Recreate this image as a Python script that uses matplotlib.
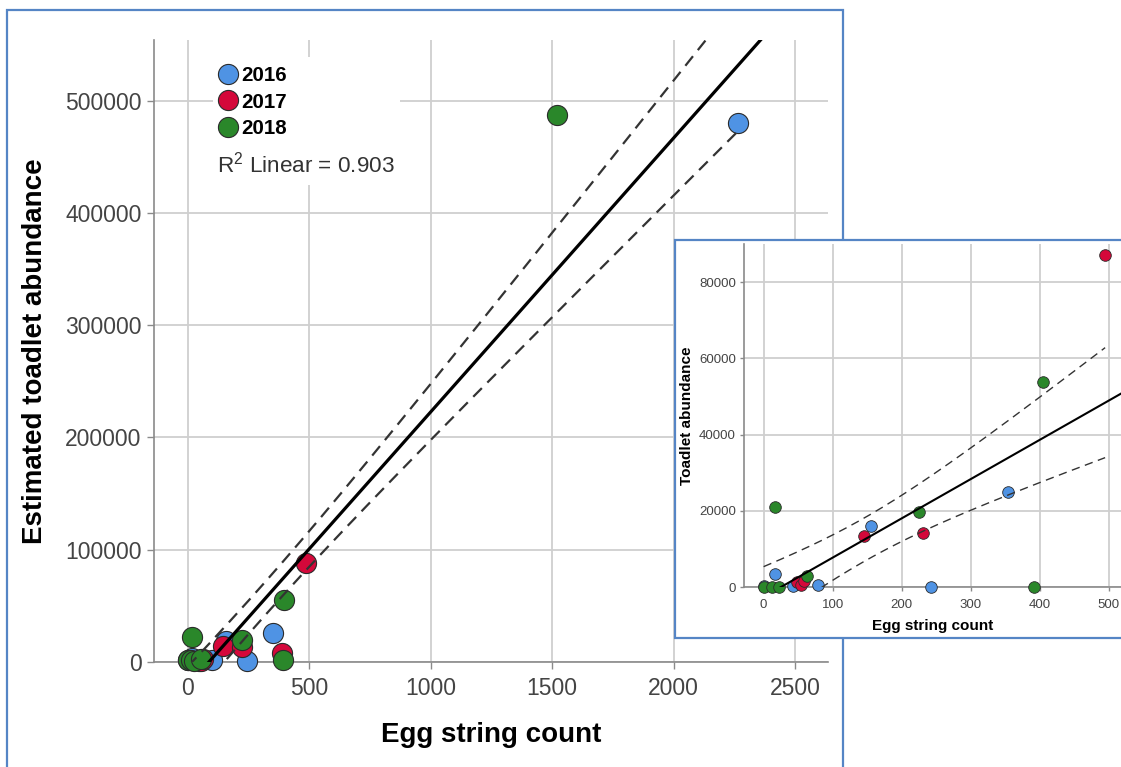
import numpy as np
import matplotlib
matplotlib.use('Agg')
import matplotlib.pyplot as plt
from matplotlib.lines import Line2D
from matplotlib.patches import Rectangle

plt.rcParams['font.family'] = ['Liberation Sans', 'DejaVu Sans']
plt.rcParams['mathtext.fontset'] = 'custom'
plt.rcParams['mathtext.rm'] = 'Liberation Sans'

# main chart: egg strings vs estimated toadlet abundance
years = ['2016', '2017', '2018']
main_egg_2016 = [0, 17, 45, 97, 155, 242, 351, 2265]
main_est_2016 = [1500, 4000, 1000, 1500, 18500, 1000, 25500, 480000]
main_egg_2017 = [50, 55, 60, 145, 224, 386, 486]
main_est_2017 = [2000, 1000, 2500, 14000, 13600, 7700, 88000]
main_egg_2018 = [0, 12, 23, 55, 15, 221, 392, 397, 1521]
main_est_2018 = [1500, 1500, 1000, 3000, 22500, 19600, 1500, 55300, 487000]

# inset: egg strings vs toadlet abundance
ins_egg_2016 = [0, 17, 43, 79, 155, 242, 354]
ins_toad_2016 = [300, 3400, 300, 600, 16000, 0, 24900]
ins_egg_2017 = [49, 54, 59, 146, 231, 495]
ins_toad_2017 = [1200, 400, 1700, 13300, 14100, 87000]
ins_egg_2018 = [0, 12, 23, 63, 16, 225, 392, 405]
ins_toad_2018 = [0, 0, 0, 2800, 21000, 19800, 0, 53700]

r2_label = 'R$^2$ Linear = 0.903'

colors = ['#4f93e4', '#d4083a', '#2a872a']
edge = '#2b2b2b'
grid_c = '#cfcfcf'
tick_c = '#444444'
frame_c = '#5585c5'

W, H = 1121, 767


def t_crit(df, z=1.644854):
    # approx upper quantile of Student t (two-sided 90% band)
    return z + (z**3 + z)/(4*df) + (5*z**5 + 16*z**3 + 3*z)/(96*df**2)


def fit_band(x, y, xs):
    x = np.asarray(x, float); y = np.asarray(y, float)
    b, a = np.polyfit(x, y, 1)
    n = len(x)
    s = np.sqrt(np.sum((y - (a + b*x))**2)/(n - 2))
    sxx = np.sum((x - x.mean())**2)
    half = t_crit(n - 2)*s*np.sqrt(1/n + (xs - x.mean())**2/sxx)
    return a + b*xs, half


def style_axes(ax, tick_size, tick_len):
    for side in ('top', 'right'):
        ax.spines[side].set_visible(False)
    for side in ('left', 'bottom'):
        ax.spines[side].set_color('#8a8a8a')
        ax.spines[side].set_linewidth(1.2)
    ax.grid(True, color=grid_c, lw=1.3)
    ax.set_axisbelow(True)
    ax.tick_params(colors='#8a8a8a', labelcolor=tick_c, labelsize=tick_size,
                   length=tick_len, width=1.0)


fig = plt.figure(figsize=(W/100, H/100), dpi=100)

# ---------------- main chart ----------------
ax = fig.add_axes([154/W, 1 - 662/H, (828 - 154)/W, (662 - 40)/H])
style_axes(ax, 16.5, 5)
ax.tick_params(axis='x', pad=6)
ax.tick_params(axis='y', pad=4)

ax.set_xlim(-140, 2636)
ax.set_ylim(0, 554000)
ax.set_xticks(np.arange(0, 2501, 500))
ax.set_yticks(np.arange(0, 500001, 100000))

# white box behind legend
ax.add_patch(Rectangle((0.0875, 0.767), 0.2775, 0.2057, transform=ax.transAxes,
                       facecolor='white', edgecolor='none', zorder=0.8))

main_x = [main_egg_2016, main_egg_2017, main_egg_2018]
main_y = [main_est_2016, main_est_2017, main_est_2018]
for xs, ys, c in zip(main_x, main_y, colors):
    ax.scatter(xs, ys, s=210, c=c, edgecolors=edge, linewidths=0.8, zorder=3, clip_on=False)

allx = np.concatenate(main_x).astype(float)
ally = np.concatenate(main_y).astype(float)
xs_full = np.linspace(-140, 2636, 200)
fit, _ = fit_band(allx, ally, xs_full)
ax.plot(xs_full, fit, color='black', lw=2.3, zorder=4)
xs_rng = np.linspace(allx.min(), allx.max(), 200)
fit_r, half = fit_band(allx, ally, xs_rng)
for sgn in (1, -1):
    ax.plot(xs_rng, fit_r + sgn*half, color='#333333', lw=1.6, ls=(0, (5.5, 3.5)), zorder=4)

handles = [Line2D([], [], ls='none', marker='o', ms=14.5, mfc=c, mec=edge, mew=0.8)
           for c in colors]
leg = ax.legend(handles, years, loc='upper left', bbox_to_anchor=(0.0945, 0.958),
                frameon=False, borderpad=0, borderaxespad=0, handlelength=1.0,
                handletextpad=0.15, labelspacing=0.36, prop={'weight': 'bold', 'size': 14.8})
leg.set_zorder(5)
ax.text(0.0935, 0.799, r2_label, transform=ax.transAxes, fontsize=16.2,
        color='#333333', va='center', ha='left', zorder=5)

ax.set_xlabel('Egg string count', fontsize=20, fontweight='bold')
ax.set_ylabel('Estimated toadlet abundance', fontsize=20, fontweight='bold')
ax.xaxis.set_label_coords(0.5, -0.096)
ax.yaxis.set_label_coords(-0.157, 0.5)

# frame round the main chart
fig.patches.append(Rectangle((7/W, -0.02), (843 - 7)/W, 1 - 10/H + 0.02,
                             transform=fig.transFigure, fill=False,
                             edgecolor=frame_c, lw=1.6, zorder=1))

# ---------------- inset ----------------
fig.patches.append(Rectangle((675/W, 1 - 638/H), 460/W, (638 - 240)/H,
                             transform=fig.transFigure, facecolor='white',
                             edgecolor=frame_c, lw=1.6, zorder=1.5))

ax2 = fig.add_axes([744.3/W, 1 - 587/H, (1121 - 744.3)/W, (587 - 244)/H], zorder=2)
style_axes(ax2, 9.5, 3)
ax2.tick_params(axis='x', pad=6)
ax2.tick_params(axis='y', pad=3)
ax2.set_xlim(-28, 518)
ax2.set_ylim(0, 90000)
ax2.set_xticks(np.arange(0, 501, 100))
ax2.set_yticks(np.arange(0, 80001, 20000))

ins_x = [ins_egg_2016, ins_egg_2017, ins_egg_2018]
ins_y = [ins_toad_2016, ins_toad_2017, ins_toad_2018]
for xs, ys, c in zip(ins_x, ins_y, colors):
    ax2.scatter(xs, ys, s=70, c=c, edgecolors=edge, linewidths=0.6, zorder=3, clip_on=False)

ix = np.concatenate(ins_x).astype(float)
iy = np.concatenate(ins_y).astype(float)
xs_full2 = np.linspace(-28, 518, 200)
fit2, _ = fit_band(ix, iy, xs_full2)
ax2.plot(xs_full2, fit2, color='black', lw=1.5, zorder=4)
xs_rng2 = np.linspace(ix.min(), ix.max(), 200)
fit2_r, half2 = fit_band(ix, iy, xs_rng2)
for sgn in (1, -1):
    ax2.plot(xs_rng2, fit2_r + sgn*half2, color='#333333', lw=1.0, ls=(0, (6, 4)), zorder=4)

ax2.set_xlabel('Egg string count', fontsize=11, fontweight='bold')
ax2.set_ylabel('Toadlet abundance', fontsize=11, fontweight='bold')
ax2.xaxis.set_label_coords(0.5, -0.093)
ax2.yaxis.set_label_coords(-0.133, 0.5)

fig.savefig('out.png', dpi=100)
